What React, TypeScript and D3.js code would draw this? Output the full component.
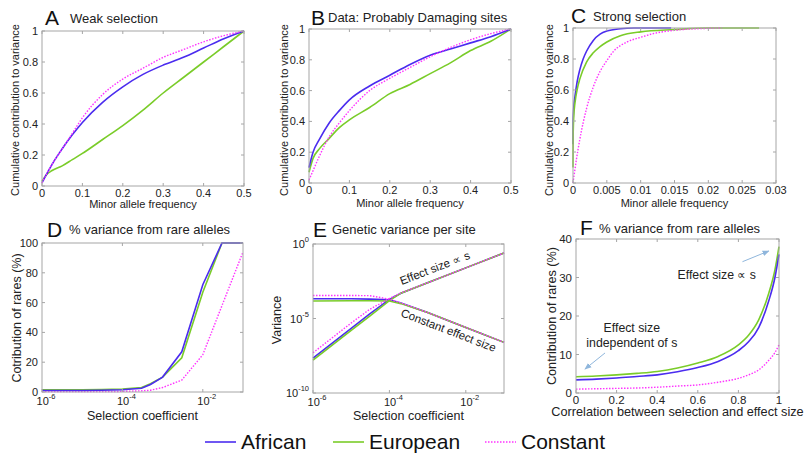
import React, { useRef, useEffect } from 'react';
import * as d3 from 'd3';

const AFRICAN = '#4b2cef';
const EUROPEAN = '#7acc29';
const CONSTANT = '#ff33ff';
const AXIS = '#a6a6a6';
const FONT = 'Liberation Sans, Arial, sans-serif';

// A: weak selection
const aFreq = [0, 0.01, 0.025, 0.05, 0.075, 0.1, 0.15, 0.2, 0.25, 0.3, 0.35, 0.4, 0.45, 0.5];
const aAfrican = [0.02, 0.07, 0.14, 0.24, 0.33, 0.41, 0.54, 0.64, 0.72, 0.78, 0.83, 0.89, 0.95, 1];
const aEuropean = [0.03, 0.07, 0.1, 0.13, 0.17, 0.21, 0.3, 0.39, 0.49, 0.6, 0.7, 0.8, 0.9, 1];
const aConstant = [0.02, 0.07, 0.14, 0.24, 0.34, 0.44, 0.59, 0.69, 0.76, 0.83, 0.88, 0.93, 0.97, 1];

// B: data, probably damaging sites
const bFreq = [0, 0.01, 0.025, 0.05, 0.075, 0.1, 0.15, 0.2, 0.25, 0.3, 0.35, 0.4, 0.45, 0.5];
const bAfrican = [0.1, 0.2, 0.28, 0.39, 0.47, 0.54, 0.63, 0.7, 0.77, 0.83, 0.87, 0.91, 0.95, 1];
const bEuropean = [0.07, 0.16, 0.22, 0.29, 0.36, 0.41, 0.49, 0.58, 0.64, 0.71, 0.78, 0.86, 0.92, 1];
const bConstant = [0.02, 0.08, 0.17, 0.3, 0.39, 0.47, 0.6, 0.68, 0.75, 0.82, 0.88, 0.93, 0.97, 1];

// C: strong selection
const cAfricanFreq = [0, 0.00002, 0.0001, 0.0003, 0.0006, 0.001, 0.0015, 0.002, 0.003, 0.004, 0.005, 0.007, 0.009, 0.0145];
const cAfrican = [0.25, 0.4, 0.48, 0.56, 0.65, 0.73, 0.8, 0.85, 0.92, 0.96, 0.98, 0.995, 1, 1];
const cEuropeanFreq = [0, 0.00002, 0.0001, 0.0003, 0.0006, 0.001, 0.002, 0.003, 0.004, 0.005, 0.007, 0.01, 0.015, 0.02, 0.0275];
const cEuropean = [0.1, 0.3, 0.42, 0.52, 0.6, 0.67, 0.78, 0.84, 0.88, 0.91, 0.95, 0.975, 0.99, 1, 1];
const cConstantFreq = [0, 0.0005, 0.001, 0.002, 0.003, 0.004, 0.005, 0.006, 0.008, 0.01, 0.012, 0.015, 0.02, 0.022];
const cConstant = [0, 0.15, 0.28, 0.48, 0.62, 0.72, 0.79, 0.85, 0.91, 0.94, 0.965, 0.985, 0.998, 1];

// D: % variance from rare alleles vs selection coefficient
const dSel = [1e-6, 1e-5, 3e-5, 1e-4, 3e-4, 5e-4, 1e-3, 3e-3, 1e-2, 3e-2, 1e-1];
const dAfrican = [1.0, 1.0, 1.2, 1.5, 2.5, 5, 10, 27, 72, 100, 100];
const dEuropean = [1.5, 1.5, 1.7, 2, 3, 5.5, 10, 23, 67, 100, 100];
const dConstant = [0.3, 0.3, 0.3, 0.4, 0.8, 1.2, 3, 8, 25, 58, 94];

// E: genetic variance per site
const eSel = [1e-6, 1e-5, 3e-5, 1e-4, 2e-4, 1e-3, 1e-2, 1e-1];
const eAfricanProp = [2.2e-8, 2.2e-6, 2e-5, 1.9e-4, 5e-4, 2.5e-3, 2.5e-2, 0.25];
const eEuropeanProp = [1.6e-8, 1.6e-6, 1.4e-5, 1.6e-4, 5e-4, 2.5e-3, 2.5e-2, 0.25];
const eConstantProp = [5e-8, 5e-6, 4e-5, 2.2e-4, 5.2e-4, 2.5e-3, 2.5e-2, 0.25];
const eAfricanConst = [2.1e-4, 2.1e-4, 2e-4, 1.8e-4, 1.1e-4, 2.5e-5, 2.5e-6, 2.5e-7];
const eEuropeanConst = [1.5e-4, 1.55e-4, 1.55e-4, 1.5e-4, 1e-4, 2.5e-5, 2.5e-6, 2.5e-7];
const eConstantConst = [3.5e-4, 3.5e-4, 3.4e-4, 2e-4, 1.1e-4, 2.5e-5, 2.5e-6, 2.5e-7];

// F: % variance from rare alleles vs correlation
const fCorr = [0, 0.1, 0.2, 0.3, 0.4, 0.5, 0.6, 0.7, 0.8, 0.85, 0.9, 0.95, 0.98, 1];
const fAfrican = [3.4, 3.6, 3.9, 4.3, 4.7, 5.5, 6.6, 8.2, 11, 13.3, 17, 24, 30, 36];
const fEuropean = [4.2, 4.4, 4.7, 5.1, 5.6, 6.5, 7.8, 9.5, 12.5, 15, 19, 26, 32, 38];
const fConstant = [1.0, 1.1, 1.2, 1.3, 1.5, 1.8, 2.1, 2.8, 3.8, 4.7, 6, 8.5, 10.5, 12.5];

// tick values
const freqTicks = [0, 0.1, 0.2, 0.3, 0.4, 0.5];
const cumTicks = [0, 0.2, 0.4, 0.6, 0.8, 1];
const cTicks = [0, 0.005, 0.01, 0.015, 0.02, 0.025, 0.03];
const selTicks = [1e-6, 1e-4, 1e-2];
const pctTicks = [0, 20, 40, 60, 80, 100];
const varTicks = [1e-10, 1e-5, 1];
const corrTicks = [0, 0.2, 0.4, 0.6, 0.8, 1];
const rareTicks = [0, 10, 20, 30, 40];

const legendItems = [
  { name: 'African', color: AFRICAN, dash: null },
  { name: 'European', color: EUROPEAN, dash: null },
  { name: 'Constant', color: CONSTANT, dash: '1.5 1.5' },
];

const styleOf = (c: string) => {
  if (c === CONSTANT) return { w: 1.4, dash: '1.5 1.5' };
  return { w: 1.6, dash: null };
};

const mk = (x: number[], y: number[], color: string) => ({ x, y, color });

const panels: any[] = [
  {
    box: { l: 42, t: 31, r: 244, b: 186 }, letter: 'A', title: 'Weak selection',
    letterAt: [45, 25], titleAt: [70, 23],
    xDomain: [0, 0.5], xTicks: freqTicks, yDomain: [0, 1], yTicks: cumTicks,
    xLabel: 'Minor allele frequency', xLabelY: 208, yLabel: 'Cumulative contribution to variance', yLabelX: 19, yLabelY: 110,
    labelSize: 11, tickSize: 11, curve: d3.curveMonotoneX,
    series: [mk(aFreq, aEuropean, EUROPEAN), mk(aFreq, aAfrican, AFRICAN), mk(aFreq, aConstant, CONSTANT)],
  },
  {
    box: { l: 309, t: 29, r: 511, b: 183 }, letter: 'B', title: 'Data: Probably Damaging sites',
    letterAt: [311, 25], titleAt: [328, 22],
    xDomain: [0, 0.5], xTicks: freqTicks, yDomain: [0, 1], yTicks: cumTicks,
    xLabel: 'Minor allele frequency', xLabelY: 207, yLabel: 'Cumulative contribution to variance', yLabelX: 288, yLabelY: 110,
    labelSize: 11, tickSize: 11, curve: d3.curveMonotoneX,
    series: [mk(bFreq, bEuropean, EUROPEAN), mk(bFreq, bAfrican, AFRICAN), mk(bFreq, bConstant, CONSTANT)],
  },
  {
    box: { l: 573, t: 28, r: 776, b: 183 }, letter: 'C', title: 'Strong selection',
    letterAt: [571, 23], titleAt: [593, 21],
    xDomain: [0, 0.03], xTicks: cTicks, yDomain: [0, 1], yTicks: cumTicks,
    xLabel: 'Minor allele frequency', xLabelY: 207, yLabel: 'Cumulative contribution to variance', yLabelX: 553, yLabelY: 110,
    labelSize: 11, tickSize: 11, curve: d3.curveMonotoneX,
    series: [mk(cAfricanFreq, cAfrican, AFRICAN), mk(cEuropeanFreq, cEuropean, EUROPEAN), mk(cConstantFreq, cConstant, CONSTANT)],
  },
  {
    box: { l: 42, t: 243, r: 243, b: 392 }, letter: 'D', title: '% variance from rare alleles',
    letterAt: [47, 237], titleAt: [69, 234],
    xLog: true, xDomain: [1e-6, 1e-1], xTicks: selTicks, yDomain: [0, 100], yTicks: pctTicks,
    xLabel: 'Selection coefficient', xLabelY: 420, yLabel: 'Cotribution of rares (%)', yLabelX: 21, yLabelY: 318,
    labelSize: 12.5, tickSize: 11, curve: d3.curveLinear,
    series: [mk(dSel, dConstant, CONSTANT), mk(dSel, dEuropean, EUROPEAN), mk(dSel, dAfrican, AFRICAN)],
  },
  {
    box: { l: 313, t: 244, r: 504, b: 393 }, letter: 'E', title: 'Genetic variance per site',
    letterAt: [313, 237], titleAt: [332, 234],
    xLog: true, xDomain: [1e-6, 1e-1], xTicks: selTicks, yLog: true, yDomain: [1e-10, 1], yTicks: varTicks,
    xLabel: 'Selection coefficient', xLabelY: 420, yLabel: 'Variance', yLabelX: 281, yLabelY: 320,
    labelSize: 12.5, tickSize: 11, curve: d3.curveLinear,
    series: [
      mk(eSel, eAfricanProp, AFRICAN), mk(eSel, eAfricanConst, AFRICAN),
      mk(eSel, eEuropeanProp, EUROPEAN), mk(eSel, eEuropeanConst, EUROPEAN),
      mk(eSel, eConstantProp, CONSTANT), mk(eSel, eConstantConst, CONSTANT),
    ],
  },
  {
    box: { l: 576, t: 239, r: 779, b: 393 }, letter: 'F', title: '% variance from rare alleles',
    letterAt: [580, 235], titleAt: [599, 233],
    xDomain: [0, 1], xTicks: corrTicks, yDomain: [0, 40], yTicks: rareTicks,
    xLabel: 'Correlation between selection and effect size', xLabelY: 416, yLabel: 'Contribution of rares (%)', yLabelX: 556, yLabelY: 316,
    labelSize: 12.7, tickSize: 11.5, curve: d3.curveMonotoneX,
    series: [mk(fCorr, fConstant, CONSTANT), mk(fCorr, fEuropean, EUROPEAN), mk(fCorr, fAfrican, AFRICAN)],
  },
];

const fmt = (v: number) => String(v);
const expOf = (v: number) => String(Math.round(Math.log10(v)));

const drawPanel = (svg: any, p: any) => {
  const { l, t, r, b } = p.box;
  const x = (p.xLog ? d3.scaleLog() : d3.scaleLinear()).domain(p.xDomain).range([l, r]);
  const y = (p.yLog ? d3.scaleLog() : d3.scaleLinear()).domain(p.yDomain).range([b, t]);
  const g = svg.append('g').attr('font-family', FONT);

  g.append('rect').attr('x', l).attr('y', t).attr('width', r - l).attr('height', b - t).attr('fill', '#fff');

  const line = d3.line<[number, number]>()
    .x(d => x(d[0]))
    .y(d => y(d[1]))
    .curve(p.curve);

  p.series.forEach((s: any) => {
    const st = styleOf(s.color);
    g.append('path')
      .attr('d', line(s.x.map((v: number, i: number) => [v, s.y[i]])))
      .attr('fill', 'none')
      .attr('stroke', s.color)
      .attr('stroke-width', st.w)
      .attr('stroke-dasharray', st.dash);
  });

  g.append('rect').attr('x', l).attr('y', t).attr('width', r - l).attr('height', b - t)
    .attr('fill', 'none').attr('stroke', AXIS).attr('stroke-width', 1);

  // ticks (inside, all four sides)
  p.xTicks.forEach((v: number) => {
    const px = x(v);
    g.append('line').attr('x1', px).attr('x2', px).attr('y1', b).attr('y2', b - 3).attr('stroke', AXIS);
    g.append('line').attr('x1', px).attr('x2', px).attr('y1', t).attr('y2', t + 3).attr('stroke', AXIS);
    if (p.xLog) {
      const tx = g.append('text').attr('x', px + 4).attr('y', b + 13).attr('text-anchor', 'middle')
        .attr('font-size', p.tickSize).attr('fill', '#222');
      tx.append('tspan').text('10');
      tx.append('tspan').attr('dy', -6).attr('font-size', 7.5).text(expOf(v));
    } else {
      g.append('text').attr('x', px).attr('y', b + 11).attr('text-anchor', 'middle')
        .attr('font-size', p.tickSize).attr('fill', '#222').text(fmt(v));
    }
  });
  p.yTicks.forEach((v: number) => {
    const py = y(v);
    g.append('line').attr('x1', l).attr('x2', l + 3).attr('y1', py).attr('y2', py).attr('stroke', AXIS);
    g.append('line').attr('x1', r).attr('x2', r - 3).attr('y1', py).attr('y2', py).attr('stroke', AXIS);
    if (p.yLog) {
      const tx = g.append('text').attr('x', l - 4).attr('y', py + 4).attr('text-anchor', 'end')
        .attr('font-size', p.tickSize).attr('fill', '#222');
      tx.append('tspan').text('10');
      tx.append('tspan').attr('dy', -6).attr('font-size', 7.5).text(expOf(v));
    } else {
      g.append('text').attr('x', l - 4).attr('y', py + 4).attr('text-anchor', 'end')
        .attr('font-size', p.tickSize).attr('fill', '#222').text(fmt(v));
    }
  });

  // titles and labels
  g.append('text').attr('x', p.letterAt[0]).attr('y', p.letterAt[1]).attr('font-size', 21).attr('fill', '#111').text(p.letter);
  g.append('text').attr('x', p.titleAt[0]).attr('y', p.titleAt[1]).attr('font-size', 13).attr('fill', '#222').text(p.title);
  g.append('text').attr('x', (l + r) / 2).attr('y', p.xLabelY).attr('text-anchor', 'middle')
    .attr('font-size', p.labelSize).attr('fill', '#222').text(p.xLabel);
  g.append('text').attr('transform', `translate(${p.yLabelX},${p.yLabelY}) rotate(-90)`).attr('text-anchor', 'middle')
    .attr('font-size', p.labelSize).attr('fill', '#222').text(p.yLabel);

  return { g, x, y };
};

const App = () => {
  const ref = useRef<SVGSVGElement>(null);

  useEffect(() => {
    const svg = d3.select(ref.current);
    svg.selectAll('*').remove();

    const defs = svg.append('defs');
    defs.append('marker').attr('id', 'arr').attr('viewBox', '0 0 10 10').attr('refX', 9).attr('refY', 5)
      .attr('markerWidth', 7).attr('markerHeight', 7).attr('orient', 'auto')
      .append('path').attr('d', 'M0,1 L10,5 L0,9 Z').attr('fill', '#8fb6dc');

    const drawn = panels.map(p => drawPanel(svg, p));

    // E annotations
    const E = drawn[4];
    E.g.append('text')
      .attr('transform', `translate(${E.x(2.1e-4)},${E.y(1.8e-3)}) rotate(-21)`)
      .attr('font-size', 11.5).attr('fill', '#222').text('Effect size ∝ s');
    E.g.append('text')
      .attr('transform', `translate(${E.x(1.9e-4)},${E.y(1.5e-5)}) rotate(21)`)
      .attr('font-size', 11.5).attr('fill', '#222').text('Constant effect size');

    // F annotations
    const F = drawn[5];
    F.g.append('text').attr('x', F.x(0.5)).attr('y', F.y(29.6)).attr('font-size', 12.3).attr('fill', '#222').text('Effect size ∝ s');
    F.g.append('text').attr('x', F.x(0.275)).attr('y', F.y(15.9)).attr('text-anchor', 'middle')
      .attr('font-size', 12.3).attr('fill', '#222').text('Effect size');
    F.g.append('text').attr('x', F.x(0.275)).attr('y', F.y(12.0)).attr('text-anchor', 'middle')
      .attr('font-size', 12.3).attr('fill', '#222').text('independent of s');
    F.g.append('line').attr('x1', F.x(0.82)).attr('y1', F.y(34.1)).attr('x2', F.x(0.95)).attr('y2', F.y(36.9))
      .attr('stroke', '#8fb6dc').attr('stroke-width', 1).attr('marker-end', 'url(#arr)');
    F.g.append('line').attr('x1', F.x(0.143)).attr('y1', F.y(10.4)).attr('x2', F.x(0.044)).attr('y2', F.y(6.2))
      .attr('stroke', '#8fb6dc').attr('stroke-width', 1).attr('marker-end', 'url(#arr)');

    // legend
    const legendX = [205, 333, 485];
    const lg = svg.append('g').attr('font-family', FONT);
    legendItems.forEach((item, i) => {
      const lx = legendX[i];
      lg.append('line').attr('x1', lx).attr('x2', lx + 31).attr('y1', 442).attr('y2', 442)
        .attr('stroke', item.color).attr('stroke-width', item.dash ? 1.4 : 1.6)
        .attr('stroke-dasharray', item.dash);
      lg.append('text').attr('x', lx + 36).attr('y', 449).attr('font-size', 21).attr('fill', '#111').text(item.name);
    });
  }, []);

  return (
    <svg ref={ref} width={805} height={456} style={{ position: 'absolute', left: 0, top: 0, background: '#fff' }} />
  );
};

export default App;
